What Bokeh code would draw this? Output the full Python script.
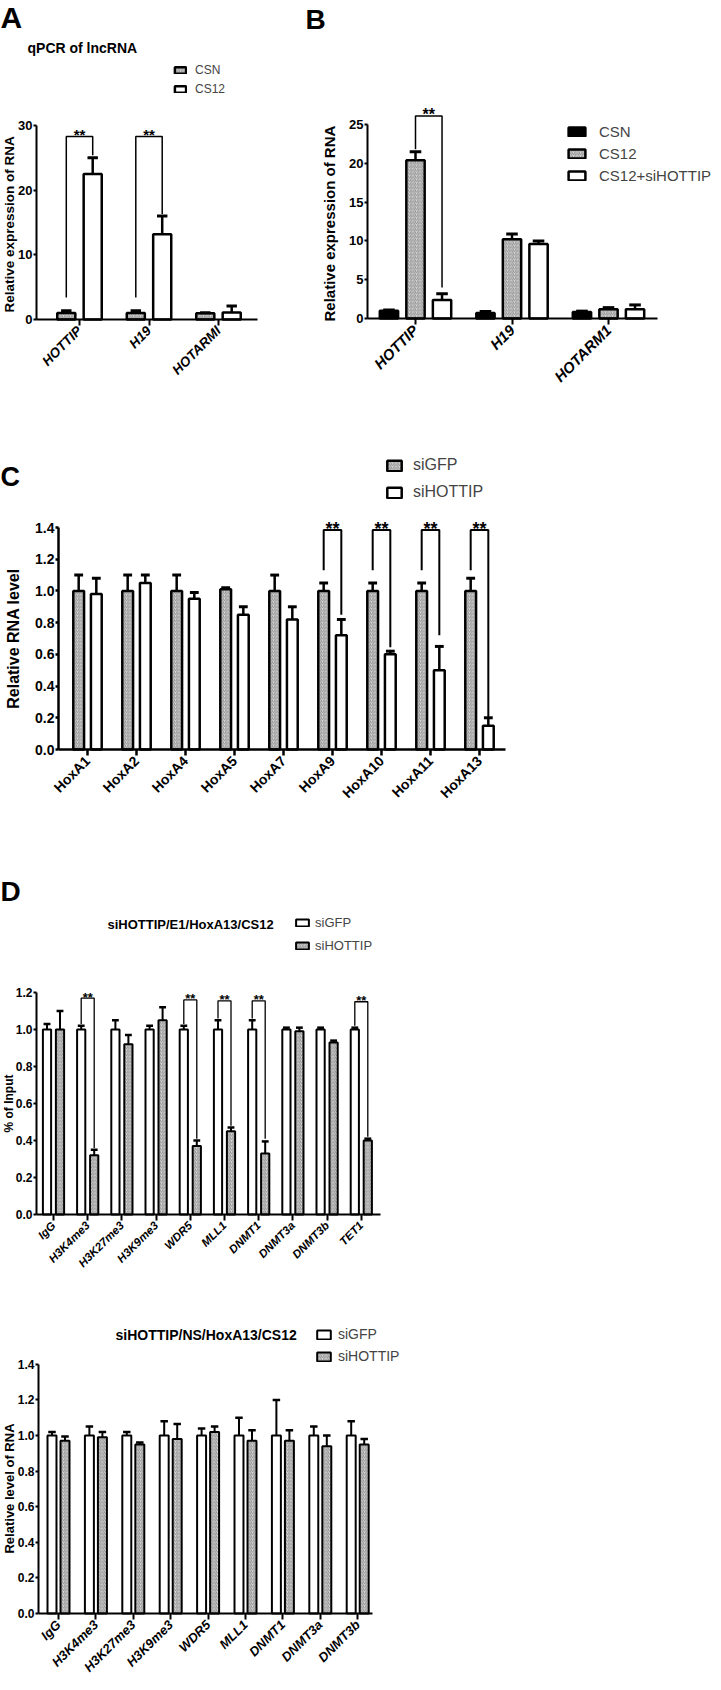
import math
from bokeh.plotting import figure
from bokeh.models import Range1d, FixedTicker, Label, Legend, LegendItem, PrintfTickFormatter
from bokeh.layouts import column, row
from bokeh.embed import file_html
from bokeh.resources import INLINE
from bokeh.core.properties import value

# ---------------- data ----------------
# Panel A : qPCR of lncRNA
a_categories = ["HOTTIP", "H19", "HOTARMI"]
a_csn = [1.0, 1.0, 0.95]
a_csn_err = [0.35, 0.35, 0.1]
a_cs12 = [22.5, 13.2, 1.1]
a_cs12_err = [2.5, 2.8, 1.0]
a_sig_index = [0, 1]
a_sig_left_base = [3.4, 3.4]
a_sig_top = [28.3, 28.3]
a_sig_right_base = [25.4, 16.3]

# Panel B
b_categories = ["HOTTIP", "H19", "HOTARM1"]
b_csn = [1.0, 0.7, 0.85]
b_csn_err = [0.1, 0.2, 0.1]
b_cs12 = [20.4, 10.2, 1.2]
b_cs12_err = [1.1, 0.7, 0.2]
b_si = [2.4, 9.6, 1.2]
b_si_err = [0.8, 0.4, 0.55]
b_sig_index = [0]
b_sig_left_base = [21.8]
b_sig_top = [26.1]
b_sig_right_base = [4.0]

# Panel C
c_categories = ["HoxA1", "HoxA2", "HoxA4", "HoxA5", "HoxA7", "HoxA9", "HoxA10", "HoxA11", "HoxA13"]
c_sigfp = [1.0, 1.0, 1.0, 1.01, 1.0, 1.0, 1.0, 1.0, 1.0]
c_sigfp_err = [0.1, 0.1, 0.1, 0.01, 0.1, 0.05, 0.05, 0.05, 0.08]
c_sihottip = [0.98, 1.05, 0.95, 0.85, 0.82, 0.72, 0.60, 0.50, 0.15]
c_sihottip_err = [0.1, 0.05, 0.04, 0.05, 0.08, 0.1, 0.02, 0.15, 0.05]
c_sig_index = [5, 6, 7, 8]
c_sig_left_base = [1.13, 1.13, 1.13, 1.13]
c_sig_top = [1.385, 1.385, 1.385, 1.385]
c_sig_right_base = [0.85, 0.645, 0.72, 0.205]

# Panel D (E1)
d1_categories = ["IgG", "H3K4me3", "H3K27me3", "H3K9me3", "WDR5", "MLL1", "DNMT1", "DNMT3a", "DNMT3b", "TET1"]
d1_sigfp = [1.0, 1.0, 1.0, 1.0, 1.0, 1.0, 1.0, 1.0, 1.0, 1.0]
d1_sigfp_err = [0.03, 0.02, 0.05, 0.02, 0.02, 0.05, 0.05, 0.01, 0.01, 0.01]
d1_sihottip = [1.0, 0.32, 0.92, 1.05, 0.37, 0.45, 0.33, 0.99, 0.93, 0.40]
d1_sihottip_err = [0.1, 0.03, 0.05, 0.07, 0.03, 0.02, 0.065, 0.02, 0.01, 0.01]
d1_sig_index = [1, 4, 5, 6, 9]
d1_sig_left_base = [1.03, 1.03, 1.06, 1.06, 1.02]
d1_sig_top = [1.17, 1.16, 1.155, 1.155, 1.15]
d1_sig_right_base = [0.36, 0.41, 0.48, 0.41, 0.42]

# Panel D (NS)
d2_categories = ["IgG", "H3K4me3", "H3K27me3", "H3K9me3", "WDR5", "MLL1", "DNMT1", "DNMT3a", "DNMT3b"]
d2_sigfp = [1.0, 1.0, 1.0, 1.0, 1.0, 1.0, 1.0, 1.0, 1.0]
d2_sigfp_err = [0.02, 0.05, 0.02, 0.08, 0.04, 0.1, 0.2, 0.05, 0.08]
d2_sihottip = [0.97, 0.99, 0.95, 0.98, 1.02, 0.97, 0.97, 0.94, 0.95]
d2_sihottip_err = [0.025, 0.03, 0.01, 0.085, 0.03, 0.06, 0.06, 0.06, 0.03]

FONT = "Liberation Sans"
HATCH = dict(fill_color="#dadada", hatch_pattern="/", hatch_color="#8a8a8a", hatch_scale=3.5, hatch_weight=0.9)
OPEN = dict(fill_color="white")
SOLID = dict(fill_color="black")


class Panel:
    def __init__(self, fig_left, fig_top, fig_w, fig_h, ax_left, ax_right, ax_bottom, cat0, spacing, ypx,
                 categories, yticks, yfmt, tick_fs, xlab_fs, xlab_style, axis_w):
        self.X = lambda rx: (rx - cat0) / spacing
        self.Y = lambda ry: (ax_bottom - ry) / ypx
        X, Y = self.X, self.Y
        self.fig_left = fig_left
        self.fig_bottom = fig_top + fig_h
        p = figure(width=fig_w, height=fig_h,
                   x_range=Range1d(X(fig_left), X(fig_left + fig_w)),
                   y_range=Range1d(Y(fig_top + fig_h), Y(fig_top)),
                   output_backend="svg", toolbar_location=None,
                   min_border_left=0, min_border_right=0, min_border_top=0, min_border_bottom=0)
        p.outline_line_color = None
        p.grid.visible = False
        p.background_fill_color = "white"
        p.border_fill_color = "white"

        xa = p.xaxis[0]
        xa.fixed_location = 0
        xa.bounds = (X(ax_left), X(ax_right))
        xa.ticker = FixedTicker(ticks=list(range(len(categories))))
        xa.major_label_overrides = {i: c for i, c in enumerate(categories)}
        xa.major_label_orientation = math.pi / 4
        xa.major_label_text_font = FONT
        xa.major_label_text_font_size = f"{xlab_fs}px"
        xa.major_label_text_font_style = xlab_style
        xa.major_label_text_color = "black"
        xa.axis_line_width = axis_w
        xa.major_tick_line_width = axis_w
        xa.major_tick_out = 6
        xa.major_tick_in = 0
        xa.minor_tick_line_color = None
        xa.major_label_standoff = 3

        ya = p.yaxis[0]
        ya.fixed_location = X(ax_left)
        ya.ticker = FixedTicker(ticks=yticks)
        ya.bounds = (0, yticks[-1])
        ya.formatter = PrintfTickFormatter(format=yfmt)
        ya.major_label_text_font = FONT
        ya.major_label_text_font_size = f"{tick_fs}px"
        ya.major_label_text_font_style = "bold"
        ya.major_label_text_color = "black"
        ya.axis_line_width = axis_w
        ya.major_tick_line_width = axis_w
        ya.major_tick_out = 3
        ya.major_tick_in = 0
        ya.minor_tick_line_color = None
        ya.major_label_standoff = 1
        self.p = p

    def bars(self, idx_offset, tops, errs, width, style, lw, cap_half):
        p = self.p
        xs = [i + idx_offset for i in range(len(tops))]
        r = p.vbar(x=xs, top=tops, bottom=0, width=width, line_color="black", line_width=lw, **style)
        ends = [t + e for t, e in zip(tops, errs)]
        p.segment(x0=xs, y0=tops, x1=xs, y1=ends, line_color="black", line_width=lw)
        p.segment(x0=[x - cap_half for x in xs], y0=ends, x1=[x + cap_half for x in xs], y1=ends,
                  line_color="black", line_width=lw + 0.5)
        return r

    def brackets(self, idx, off_left, off_right, lbase, top, rbase, lw, star_fs, star_lift):
        xs, ys, sx, sy = [], [], [], []
        for i, lb, t, rb in zip(idx, lbase, top, rbase):
            xl, xr = i + off_left, i + off_right
            xs.append([xl, xl, xr, xr])
            ys.append([lb, t, t, rb])
            sx.append((xl + xr) / 2)
            sy.append(t + star_lift)
        self.p.multi_line(xs=xs, ys=ys, line_color="black", line_width=lw)
        self.p.text(x=sx, y=sy, text=["**"] * len(sx), text_align="center", text_baseline="alphabetic",
                    text_font=value(FONT), text_font_style="bold", text_font_size=f"{star_fs}px",
                    text_color="black")

    def legend(self, items, box_left, first_center, fs, gw, gh, lh, spacing, standoff):
        n = len(items)
        top = first_center - lh / 2
        bottom = top + n * lh + (n - 1) * spacing
        leg = Legend(items=[LegendItem(label=l, renderers=[r]) for l, r in items],
                     location=(int(round(box_left - self.fig_left)), int(round(self.fig_bottom - bottom))),
                     glyph_width=gw, glyph_height=gh, label_height=lh, spacing=spacing,
                     padding=0, margin=0, border_line_color=None, background_fill_alpha=0,
                     label_text_font=FONT, label_text_font_size=f"{fs}px", label_standoff=standoff)
        self.p.add_layout(leg)

    def label(self, rx, ry, txt, fs, style="bold", angle=0.0, align="left", baseline="top"):
        self.p.add_layout(Label(x=self.X(rx), y=self.Y(ry), text=txt, text_font=FONT,
                                text_font_size=f"{fs}px", text_font_style=style, text_color="black",
                                angle=angle, text_align=align, text_baseline=baseline))


# ---------------- Panel A ----------------
A = Panel(0, 0, 262, 412, 36, 257, 319, 79, 69.5, 194 / 30,
          a_categories, [0, 10, 20, 30], "%d", 13, 13.5, "bold italic", 2)
rA1 = A.bars(-0.19, a_csn, a_csn_err, 0.26, HATCH, 2.5, 0.075)
rA2 = A.bars(0.19, a_cs12, a_cs12_err, 0.26, OPEN, 2.5, 0.075)
A.brackets(a_sig_index, -0.19, 0.19, a_sig_left_base, a_sig_top, a_sig_right_base, 1.5, 15, 0.25)
A.legend([("CSN", rA1), ("CS12", rA2)], 173, 71.7, 12, 14, 8, 13, 5, 8)
A.label(0, 0, "A", 30)
A.label(27, 47.5, "qPCR of lncRNA", 14, baseline="middle")
A.label(1, 222, "Relative expression of  RNA", 13.5, angle=math.pi / 2, align="center", baseline="top")

# ---------------- Panel B ----------------
B = Panel(262, 0, 451, 412, 367, 657, 318, 415, 96.5, 194 / 25,
          b_categories, [0, 5, 10, 15, 20, 25], "%d", 13, 15, "bold italic", 2)
rB1 = B.bars(-0.275, b_csn, b_csn_err, 0.19, SOLID, 2.5, 0.06)
rB2 = B.bars(0.0, b_cs12, b_cs12_err, 0.19, HATCH, 2.5, 0.06)
rB3 = B.bars(0.275, b_si, b_si_err, 0.19, OPEN, 2.5, 0.06)
B.brackets(b_sig_index, 0.0, 0.275, b_sig_left_base, b_sig_top, b_sig_right_base, 1.5, 16, 0.2)
B.legend([("CSN", rB1), ("CS12", rB2), ("CS12+siHOTTIP", rB3)], 566, 131.5, 15, 21, 11, 17, 5, 12)
B.label(305, 3, "B", 28)
B.label(320, 221, "Relative expression of  RNA", 15, angle=math.pi / 2, align="center", baseline="top")

# ---------------- Panel C ----------------
C = Panel(0, 412, 713, 448, 58, 505, 749, 87, 49, 222 / 1.4,
          c_categories, [0, 0.2, 0.4, 0.6, 0.8, 1.0, 1.2, 1.4], "%.1f", 14, 14, "bold", 2.5)
rC1 = C.bars(-0.18, c_sigfp, c_sigfp_err, 0.22, HATCH, 2.5, 0.09)
rC2 = C.bars(0.18, c_sihottip, c_sihottip_err, 0.22, OPEN, 2.5, 0.09)
C.brackets(c_sig_index, -0.18, 0.18, c_sig_left_base, c_sig_top, c_sig_right_base, 2, 18, 0.005)
C.legend([("siGFP", rC1), ("siHOTTIP", rC2)], 385, 465, 16, 18, 13, 20, 7, 10)
C.label(0, 461, "C", 27)
C.label(4, 638, "Relative RNA level", 16, angle=math.pi / 2, align="center", baseline="top")

# ---------------- Panel D (E1) ----------------
D1 = Panel(0, 860, 713, 430, 36, 380, 1214, 53, 34.2, 185,
           d1_categories, [0, 0.2, 0.4, 0.6, 0.8, 1.0, 1.2], "%.1f", 12, 11.5, "bold italic", 2)
rD11 = D1.bars(-0.19, d1_sigfp, d1_sigfp_err, 0.24, OPEN, 2, 0.1)
rD12 = D1.bars(0.19, d1_sihottip, d1_sihottip_err, 0.24, HATCH, 2, 0.1)
D1.brackets(d1_sig_index, -0.19, 0.19, d1_sig_left_base, d1_sig_top, d1_sig_right_base, 1.3, 13, 0.005)
D1.legend([("siGFP", rD11), ("siHOTTIP", rD12)], 294, 922.5, 13, 16, 9, 15, 8, 5)
D1.label(0, 875, "D", 28)
D1.label(107, 923.5, "siHOTTIP/E1/HoxA13/CS12", 13, baseline="middle")
D1.label(1, 1103, "% of Input", 12, angle=math.pi / 2, align="center", baseline="top")

# ---------------- Panel D (NS) ----------------
D2 = Panel(0, 1290, 713, 392, 38, 372, 1613, 58, 37.4, 178,
           d2_categories, [0, 0.2, 0.4, 0.6, 0.8, 1.0, 1.2, 1.4], "%.1f", 12, 13, "bold italic", 2)
rD21 = D2.bars(-0.174, d2_sigfp, d2_sigfp_err, 0.24, OPEN, 2, 0.1)
rD22 = D2.bars(0.174, d2_sihottip, d2_sihottip_err, 0.24, HATCH, 2, 0.1)
D2.legend([("siGFP", rD21), ("siHOTTIP", rD22)], 315, 1334, 14, 17, 11, 16, 6, 6)
D2.label(115, 1334, "siHOTTIP/NS/HoxA13/CS12", 14, baseline="middle")
D2.label(1, 1488, "Relative level of RNA", 13, angle=math.pi / 2, align="center", baseline="top")

layout = column(row(A.p, B.p), C.p, D1.p, D2.p)
open("out.html", "w").write(file_html(layout, INLINE))
